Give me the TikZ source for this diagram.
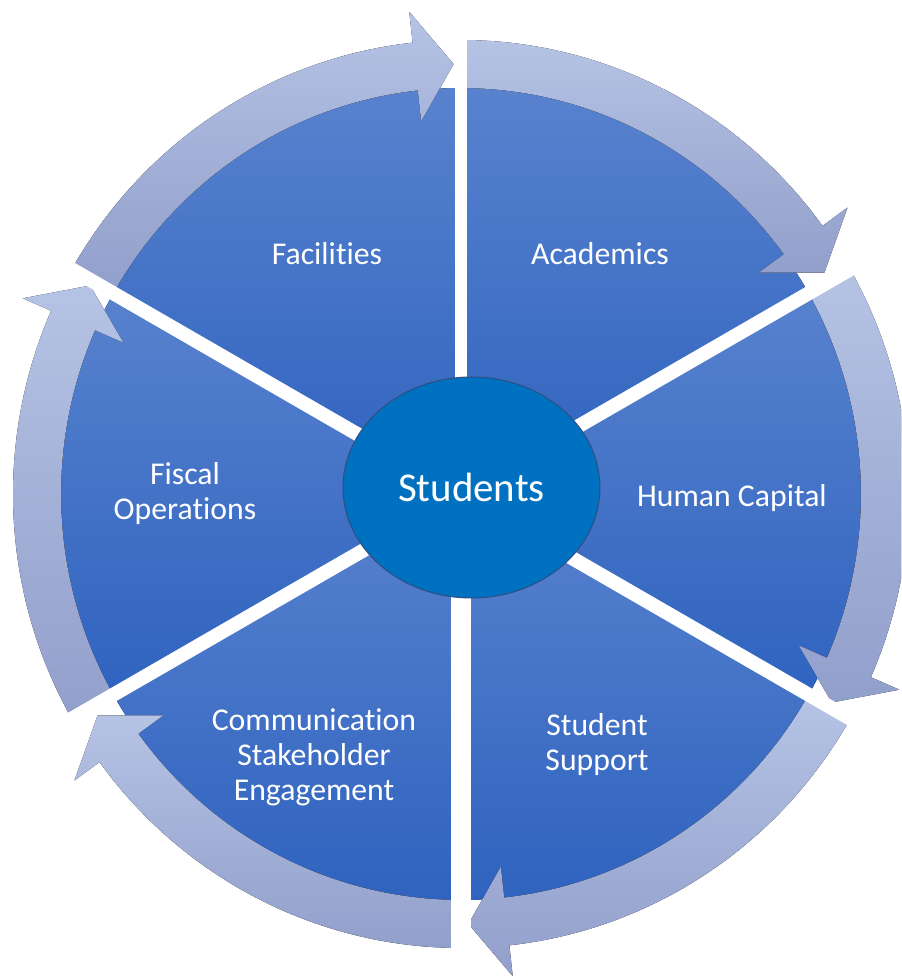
\documentclass[tikz,border=0pt]{standalone}
\usepackage{fontspec}
\setmainfont{Carlito}[Ligatures=NoCommon]
\usepackage{tikz}
\usetikzlibrary{shapes.geometric,positioning}
\definecolor{wedgetop}{HTML}{5882CE}
\definecolor{wedgebot}{HTML}{2F63BF}
\definecolor{ringtop}{HTML}{B5C3E5}
\definecolor{ringbot}{HTML}{919FCB}
\definecolor{hubblue}{HTML}{0070C0}
\definecolor{hubline}{HTML}{2F4F80}

\begin{document}
\begin{tikzpicture}[
    x=0.75pt, y=0.75pt,
    wedge/.style={top color=wedgetop, bottom color=wedgebot, draw=none},
    ring/.style={top color=ringtop, bottom color=ringbot, draw=none},
    gap/.style={draw=white, line width=#1},
    label/.style={text=white, font=\fontsize{23.8}{26.25}\selectfont, align=center},
    hub/.style={ellipse, fill=hubblue, draw=hubline, line width=0.75pt, text=white,
        minimum width=192.75pt, minimum height=165.75pt, inner sep=0pt,
        font=\fontsize{30.7}{34}\selectfont}
]
    \useasboundingbox (0,0) rectangle (901,976);
    \clip (0,0) rectangle (901,976);

    \begin{scope}[shift={(461,482)}]
        % Wedges
        \foreach \a in {-150,-90,...,150}
            \fill[wedge] (0,0) -- (\a:400 and 406)
                arc[start angle=\a, end angle=\a+60, x radius=400, y radius=406] -- cycle;

        % Curved arrows round the rim, clockwise
        \foreach \s [evaluate=\s as \b using \s-53.8,
                     evaluate=\s as \t using \s-59] in {90,30,-30,-90,-150,-210}
            \fill[ring] (\s:400 and 406) -- (\s:448 and 454)
                arc[start angle=\s, end angle=\b, x radius=448, y radius=454]
                -- (\b:479 and 485) -- (\t:424 and 430) -- (\b:369 and 375)
                -- (\b:400 and 406)
                arc[start angle=\b, end angle=\s, x radius=400, y radius=406] -- cycle;

        % White gaps between the wedges
        \foreach \a/\w in {90/9pt,30/10.5pt,-30/10.5pt,-90/15pt,-150/10.5pt,150/10.5pt}
            \draw[gap=\w] (0,0) -- (\a:520);
    \end{scope}

    % Nodes
    \node[hub] (hub) at (471.5,488.5) {Students};

    \node[label] (facilities) at (327,722) {Facilities};
    \node[label] (academics) at (600,722) {Academics};
    \node[label] (capital) at (732,478) {Human Capital};
    \node[label] (support) at (597,231) {Student\\Support};
    \node[label] (comms) at (314,219) {Communication\\Stakeholder\\Engagement};
    \node[label] (fiscal) at (185,482) {Fiscal\\Operations};
\end{tikzpicture}
\end{document}
